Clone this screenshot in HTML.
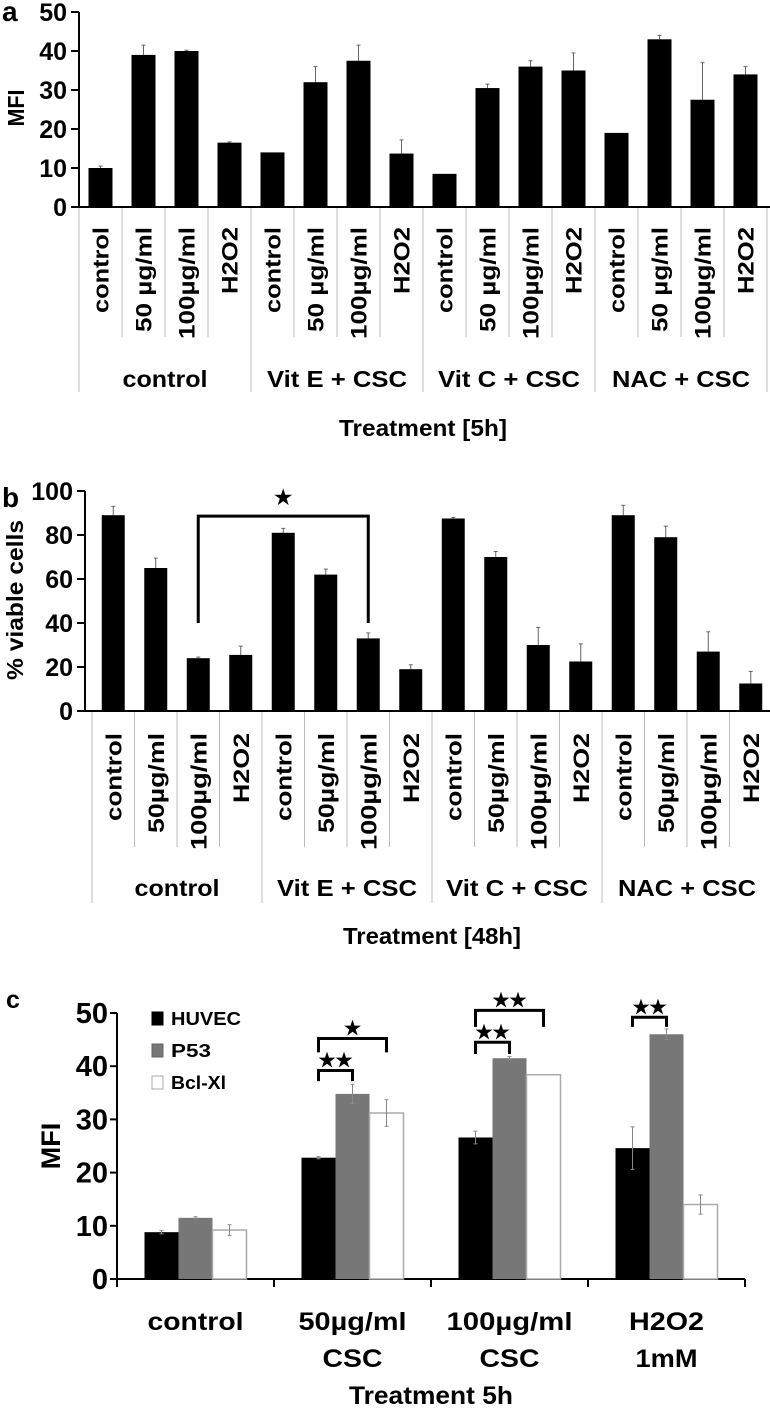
<!DOCTYPE html>
<html><head><meta charset="utf-8"><style>
html,body{margin:0;padding:0;background:#fff;}
svg{display:block;font-family:"Liberation Sans",Arial,sans-serif;font-weight:bold;}
</style></head><body>
<svg id="fig" width="770" height="1411" viewBox="0 0 770 1411" xmlns="http://www.w3.org/2000/svg"></svg>
<script>
// ---- Panel a data ----
const aCats = ["control","50 µg/ml","100µg/ml","H2O2"];
const aGroups = ["control","Vit E + CSC","Vit C + CSC","NAC + CSC"];
const aVals = [10,39,40,16.5, 14,32,37.5,13.7, 8.5,30.5,36,35, 19,43,27.5,34];
const aErr = [0.5,2.5,0.2,0.2, 0,4,4,3.5, 0,1,1.5,4.5, 0,1,9.5,2];
const aTicks = [0,10,20,30,40,50];
// ---- Panel b data ----
const bCats = ["control","50µg/ml","100µg/ml","H2O2"];
const bGroups = ["control","Vit E + CSC","Vit C + CSC","NAC + CSC"];
const bVals = [89,65,24,25.5, 81,62,33,19, 87.5,70,30,22.5, 89,79,27,12.5];
const bErr = [4,4.5,0.5,4, 2,2.5,2.5,2, 0.5,2.5,8,8, 4.5,5,9,5.5];
const bTicks = [0,20,40,60,80,100];
// ---- Panel c data ----
const cCats1 = ["control","50µg/ml","100µg/ml","H2O2"];
const cCats2 = ["","CSC","CSC","1mM"];
const cSeries = ["HUVEC","P53","Bcl-Xl"];
const cHuvec = [8.8,22.8,26.6,24.6];
const cP53 = [11.5,34.8,41.5,46];
const cBcl = [9.2,31.2,38.4,14];
const cHuvecErr = [0.3,0.2,1.2,4];
const cP53Err = [0.2,1.8,0.3,1];
const cBclErr = [1,2.5,0,1.8];
const cTicks = [0,10,20,30,40,50];

const NS="http://www.w3.org/2000/svg";
const svg=document.getElementById('fig');
function el(tag,attrs,parent){const e=document.createElementNS(NS,tag);for(const k in attrs)e.setAttribute(k,attrs[k]);(parent||svg).appendChild(e);return e;}
function txt(s,attrs,parent){const t=el('text',attrs,parent);t.textContent=s;return t;}

function panel(o){
  const g=el('g',{});
  
  
  const y=v=>o.y0-v*o.ky;
  const ax=el('line',{x1:o.ax,y1:y(o.ticks[o.ticks.length-1]),x2:o.ax,y2:o.y0,stroke:'#000','stroke-width':2},g);
  
  const xa=el('line',{x1:o.ax-6,y1:o.y0,x2:o.xEnd,y2:o.y0,stroke:'#000','stroke-width':2},g);
  
  o.ticks.forEach(t=>{
    el('line',{x1:o.ax-8,y1:y(t),x2:o.ax,y2:y(t),stroke:'#000','stroke-width':2},g);
    const tl=txt(String(t),{x:o.ax-12,y:y(t)+9,'font-size':25,'text-anchor':'end'},g);
    
  });
  for(let i=0;i<=16;i++){
    const x=o.bx+o.bw*i;
    el('line',{x1:x,y1:o.y0+1,x2:x,y2:(i%4==0)?o.sepLong:o.sepShort,stroke:'#bbb','stroke-width':1},g);
  }
  o.vals.forEach((v,i)=>{
    const cx=o.bx+o.bw*(i+0.5);
    const e=o.err[i];
    if(e>0){
      el('line',{x1:cx,y1:y(v),x2:cx,y2:y(v+e),stroke:'#666','stroke-width':1},g);
      el('line',{x1:cx-2,y1:y(v+e),x2:cx+2,y2:y(v+e),stroke:'#666','stroke-width':1},g);
    }
    const r=el('rect',{x:cx-o.barW/2,y:y(v),width:o.barW,height:o.y0-y(v),fill:'#000'},g);
    
    
    const lbl=o.cats[i%4];
    const t=txt(lbl,{x:0,y:0,'font-size':22,'text-anchor':'end',textLength:o.lens[i%4],lengthAdjust:'spacingAndGlyphs',transform:`translate(${cx+8},${o.labTop}) rotate(-90)`},g);
    
  });
  o.groups.forEach((s,k)=>{
    const t=txt(s,{x:o.bx+o.bw*(4*k+2)-o.gLens[k]/2,y:o.grpY,'font-size':23,textLength:o.gLens[k],lengthAdjust:'spacingAndGlyphs'},g);
    
  });
  const xt=txt(o.xTitle,{x:(o.bx+o.bx+o.bw*16)/2-o.xTitleLen/2,y:o.xTitleY,'font-size':23,textLength:o.xTitleLen,lengthAdjust:'spacingAndGlyphs'},g);
  
  const yt=txt(o.yTitle,{x:-o.yTitleLen/2,y:0,'font-size':23,textLength:o.yTitleLen,lengthAdjust:'spacingAndGlyphs',transform:`translate(${o.yTitleX},${o.yTitleY}) rotate(-90)`},g);
  
  const pl=txt(o.letter,{x:2,y:o.letterY,'font-size':28},g);
  
  return {g,y,cx:i=>o.bx+o.bw*(i+0.5)};
}

panel({name:'panel-a-chart',ax:79,y0:207,ky:3.9,xEnd:770,bx:79,bw:43,barW:24,ticks:aTicks,vals:aVals,err:aErr,
  cats:aCats,lens:[86,105,112,67],labTop:227,sepShort:337,sepLong:392,groups:aGroups,gLens:[85,140,142,138],grpY:387,
  xTitle:'Treatment [5h]',xTitleLen:168,xTitleY:436,yTitle:'MFI',yTitleLen:37,yTitleX:24,yTitleY:108,letter:'a',letterY:21});

const pb=panel({name:'panel-b-chart',ax:85,y0:711,ky:2.2,xEnd:772,bx:92,bw:42.5,barW:23,ticks:bTicks,vals:bVals,err:bErr,
  cats:bCats,lens:[88,100,117,70],labTop:733,sepShort:847,sepLong:903,groups:bGroups,gLens:[85,140,142,138],grpY:896,
  xTitle:'Treatment [48h]',xTitleLen:178,xTitleY:944,yTitle:'% viable cells',yTitleLen:160,yTitleX:23,yTitleY:600,letter:'b',letterY:507});
const bx1=pb.cx(2),bx2=pb.cx(6);
const br=el('polyline',{points:`${bx1},${pb.y(40)} ${bx1},${pb.y(88.6)} ${bx2},${pb.y(88.6)} ${bx2},${pb.y(40)}`,fill:'none',stroke:'#000','stroke-width':3},pb.g);

const bs=txt('★',{x:(bx1+bx2)/2,y:pb.y(94),'font-size':20,'text-anchor':'middle'},pb.g);


(function(){
  const g=el('g',{});
  
  
  const ax=117,y0=1279,ky=5.32,gw=157,bw=34;
  const y=v=>y0-v*ky;
  const gx=i=>ax+gw*(i+0.5);
  const a1=el('line',{x1:ax,y1:y(50),x2:ax,y2:y0+8,stroke:'#000','stroke-width':2},g);
  
  const a2=el('line',{x1:ax-6,y1:y0,x2:ax+gw*4,y2:y0,stroke:'#000','stroke-width':2},g);
  
  for(let i=0;i<=4;i++) el('line',{x1:ax+gw*i,y1:y0,x2:ax+gw*i,y2:y0+8,stroke:'#000','stroke-width':2},g);
  cTicks.forEach(t=>{
    el('line',{x1:ax-7,y1:y(t),x2:ax,y2:y(t),stroke:'#000','stroke-width':2},g);
    const tl=txt(String(t),{x:ax-9,y:y(t)+10,'font-size':29,'text-anchor':'end'},g);
    
  });
  const series=[[cHuvec,cHuvecErr,'#000','#000'],[cP53,cP53Err,'#777','#666'],[cBcl,cBclErr,'#fff','#aaa']];
  series.forEach((s,si)=>{
    s[0].forEach((v,i)=>{
      const x=gx(i)-1.5*bw+si*bw;
      const r=el('rect',{x:x,y:y(v),width:bw,height:y0-y(v),fill:s[2],stroke:s[3],'stroke-width':si==2?1.5:0},g);
      
      
      const e=s[1][i];
      if(e>0){
        const cx=x+bw/2;
        el('line',{x1:cx,y1:y(v-e),x2:cx,y2:y(v+e),stroke:'#888','stroke-width':1},g);
        el('line',{x1:cx-2,y1:y(v+e),x2:cx+2,y2:y(v+e),stroke:'#888','stroke-width':1},g);
        el('line',{x1:cx-2,y1:y(v-e),x2:cx+2,y2:y(v-e),stroke:'#888','stroke-width':1},g);
      }
    });
  });
  const brk=[[1,0,1,39.2,37.2,'★★'],[1,0,2,45.2,42.6,'★'],[2,0,1,44.5,42.3,'★★'],[2,0,2,50.5,47.4,'★★'],[3,0,1,49.2,47.4,'★★']];
  brk.forEach(b=>{
    const x1=gx(b[0])-bw+b[1]*bw, x2=gx(b[0])-bw+b[2]*bw;
    const p=el('polyline',{points:`${x1},${y(b[4])} ${x1},${y(b[3])} ${x2},${y(b[3])} ${x2},${y(b[4])}`,fill:'none',stroke:'#000','stroke-width':3},g);
    
    const s=txt(b[5],{x:(x1+x2)/2,y:y(b[3])-4,'font-size':19,'text-anchor':'middle'},g);
    
  });
  const lg=el('g',{},g);
  
  const lf=[['#000','#000'],['#777','#666'],['#fff','#aaa']];
  const ll=[70,40,55];
  cSeries.forEach((n,i)=>{
    const yy=1012+i*32;
    const sw=el('rect',{x:152,y:yy,width:11,height:13,fill:lf[i][0],stroke:lf[i][1],'stroke-width':1},lg);
    
    const t=txt(n,{x:171,y:yy+13,'font-size':18,textLength:ll[i],lengthAdjust:'spacingAndGlyphs'},lg);
    
  });
  const l1=[96,108,126,75], l2=[0,60,60,62];
  cCats1.forEach((c,i)=>{
    const t=txt(c,{x:gx(i)-l1[i]/2,y:1330,'font-size':25,textLength:l1[i],lengthAdjust:'spacingAndGlyphs'},g);
    
    if(cCats2[i]){const t2=txt(cCats2[i],{x:gx(i)-l2[i]/2,y:1367,'font-size':25,textLength:l2[i],lengthAdjust:'spacingAndGlyphs'},g);
    }
  });
  const xt=txt('Treatment 5h',{x:gx(1.5)-82,y:1404,'font-size':25,textLength:164,lengthAdjust:'spacingAndGlyphs'},g);
  
  const yt=txt('MFI',{x:0,y:0,'font-size':27,'text-anchor':'middle',transform:'translate(60,1146) rotate(-90)'},g);
  
  const pl=txt('c',{x:6,y:1008,'font-size':25},g);
  
})();
</script>
</body></html>
